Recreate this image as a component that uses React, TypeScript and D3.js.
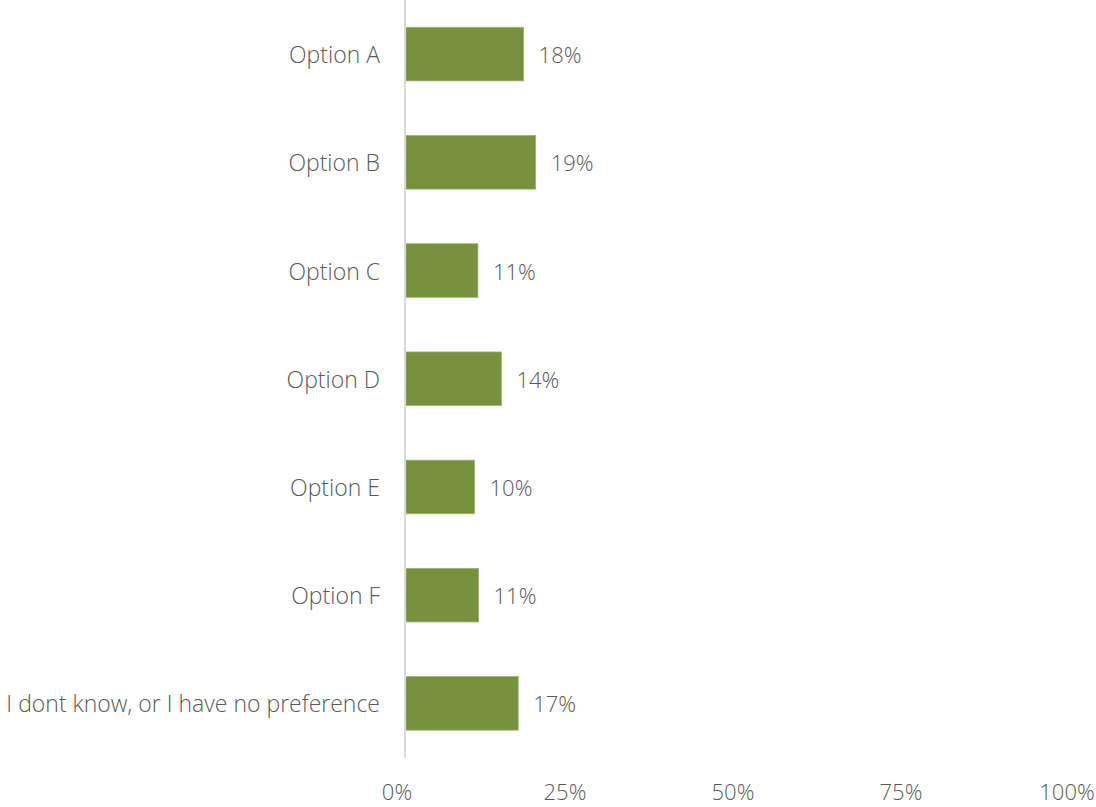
import React from "react";
import * as d3 from "d3";

const categories = [
  "Option A",
  "Option B",
  "Option C",
  "Option D",
  "Option E",
  "Option F",
  "I dont know, or I have no preference",
];
const values = [17.5, 19.3, 10.7, 14.2, 10.2, 10.8, 16.7];
const tickValues = [0, 25, 50, 75, 100];

const W = 1096;
const H = 807;
const x0 = 405;
const x1 = 1077;
const yTop = 0;
const yBottom = 757.5;
const FONT = "'Open Sans', 'Noto Sans', sans-serif";
const TEXT = "#595959";

export default function App() {
  const x = d3.scaleLinear().domain([0, 100]).range([x0, x1]);
  const y = d3
    .scaleBand<string>()
    .domain(categories)
    .range([yTop, yBottom])
    .paddingInner(0.505)
    .paddingOuter(0.2525);
  return (
    <svg
      width={W}
      height={H}
      style={{ position: "absolute", left: 0, top: 0, background: "#fff" }}
      fontFamily={FONT}
    >
      {categories.map((c, i) => {
        const yy = y(c)!;
        const bw = y.bandwidth();
        return (
          <g key={c}>
            <rect
              x={x(0) + 1}
              y={yy}
              width={x(values[i]) - x(0)}
              height={bw}
              fill="#76923C"
              stroke="#9BB36A"
              strokeWidth={0.8}
            />
            <text
              x={380}
              y={yy + bw / 2}
              textAnchor="end"
              dominantBaseline="central"
              fontSize={23}
              fontWeight={300}
              fill={TEXT}
            >
              {c}
            </text>
            <text
              x={x(values[i]) + 16}
              y={yy + bw / 2}
              dominantBaseline="central"
              fontSize={22}
              fontWeight={300}
              fill={TEXT}
            >
              {Math.round(values[i])}%
            </text>
          </g>
        );
      })}
      <line x1={x0} x2={x0} y1={0} y2={758} stroke="#D9D9D9" strokeWidth={2} />
      {tickValues.map((t) => (
        <text
          key={t}
          x={Math.min(x(t) - 8, 1067)}
          y={800}
          textAnchor="middle"
          fontSize={22}
          fontWeight={300}
          fill={TEXT}
        >
          {t}%
        </text>
      ))}
    </svg>
  );
}
